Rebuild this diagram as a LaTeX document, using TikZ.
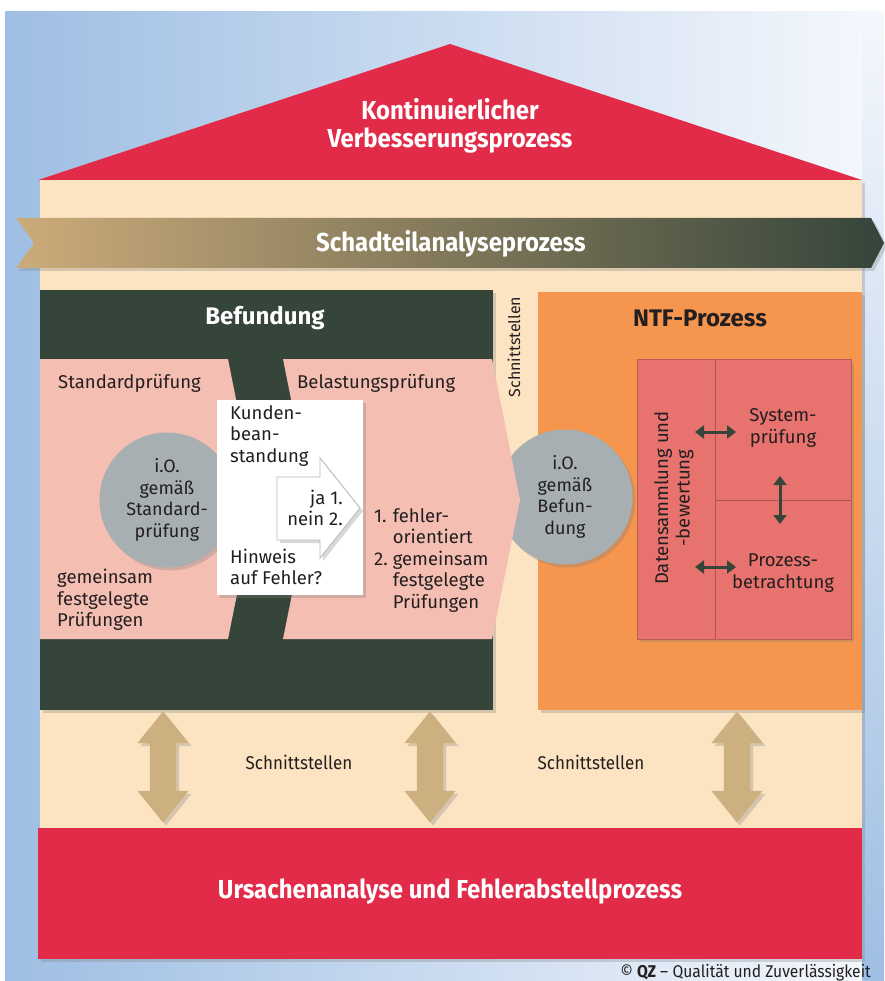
\documentclass[tikz,border=0pt]{standalone}
\usepackage{fontspec}
\setmainfont{Fira Sans}
\newfontfamily\condfont{Fira Sans}[FakeStretch=0.92]
\usetikzlibrary{arrows.meta,positioning,calc,shapes.arrows,shadows}
\definecolor{skyblue}{RGB}{158,190,227}
\definecolor{skypale}{RGB}{244,247,252}
\definecolor{roofred}{RGB}{226,43,72}
\definecolor{wallbeige}{RGB}{252,227,193}
\definecolor{befgreen}{RGB}{53,69,58}
\definecolor{ribtan}{RGB}{204,171,122}
\definecolor{chevpink}{RGB}{245,190,178}
\definecolor{ntforange}{RGB}{245,149,78}
\definecolor{ntfred}{RGB}{232,114,110}
\definecolor{iogray}{RGB}{167,175,178}
\definecolor{pillartan}{RGB}{205,176,128}
\definecolor{txtdark}{RGB}{35,31,32}
\tikzset{
  softshadow/.style={drop shadow={opacity=0.3, shadow xshift=3pt, shadow yshift=-3pt}},
  panel/.style={rectangle, inner sep=0pt, anchor=north west, softshadow},
  lbl/.style={font=\fontsize{18.5}{21.5}\selectfont, text=txtdark, align=left, inner sep=0pt},
  headlbl/.style={font=\bfseries\fontsize{24}{28}\selectfont, inner sep=0pt},
  bandlbl/.style={font=\condfont\bfseries\fontsize{26}{28}\selectfont, text=white, align=center, inner sep=0pt},
  iocircle/.style={circle, fill=iogray, minimum size=135pt, inner sep=0pt, align=center,
    font=\fontsize{18}{21.5}\selectfont, text=txtdark, softshadow},
  pillar/.style={double arrow, fill=pillartan, rotate=90, minimum height=111pt, inner xsep=0pt, inner ysep=13pt,
    double arrow head extend=12.5pt, double arrow tip angle=78, softshadow},
  ntfarr/.style={{Triangle[length=9pt,width=13pt]}-{Triangle[length=9pt,width=13pt]}, line width=3pt, draw=befgreen},
}

\begin{document}
\begin{tikzpicture}[x=1pt,y=-1pt]
  \useasboundingbox (0,0) rectangle (884,981);
  % backdrop
  \shade[left color=skyblue, right color=skypale] (5,12) rectangle (862,981);
  \shade[top color=skypale, bottom color=skyblue] (862,12) rectangle (884,981);
  % house
  \fill[wallbeige, softshadow] (40,180) rectangle (862,828);
  \fill[roofred] (38,180) -- (450,44) -- (862,180) -- cycle;
  \node[bandlbl] (kvp) at (450,126) {Kontinuierlicher\\Verbesserungsprozess};
  \shade[left color=ribtan, middle color=ribtan!45!befgreen, right color=befgreen, softshadow]
    (16,218) -- (871,218) -- (884,243) -- (871,268) -- (16,268) -- (34,243) -- cycle;
  \node[bandlbl] (sap) at (451,244) {Schadteilanalyseprozess};

  % Befundung
  \node[panel, fill=befgreen, minimum width=453, minimum height=420] (befbox) at (40,290) {};
  \node[headlbl, text=white] (beftitle) at (265,318) {Befundung};
  \node[font=\fontsize{16}{18}\selectfont, text=txtdark, rotate=90, inner sep=0pt] (sstop) at (514,347) {Schnittstellen};

  % NTF
  \node[panel, fill=ntforange, minimum width=324, minimum height=418] (ntfbox) at (538,292) {};
  \node[headlbl, text=txtdark] (ntftitle) at (700,318) {NTF-Prozess};
  \node[iocircle] (iobef) at (565,497) {i.O.\\gemäß\\Befun-\\dung};

  \fill[chevpink] (40,359) -- (228,359) -- (256,500) -- (228,639) -- (40,639) -- cycle;
  \fill[chevpink] (283,359) -- (492,359) -- (520,500) -- (492,639) -- (283,639) -- (311,500) -- cycle;
  \node[iocircle] (iostd) at (167,500) {i.O.\\gemäß\\Standard-\\prüfung};
  \node[lbl, anchor=west] (stdpr) at (58,383) {Standardprüfung};
  \node[lbl, anchor=west] (gemfest) at (57,600) {gemeinsam\\festgelegte\\Prüfungen};
  \node[lbl, anchor=west] (belpr) at (297,383) {Belastungsprüfung};
  \node[lbl, anchor=west] (bellist) at (374,561)
    {\begin{tabular}{@{}l@{\hspace{5pt}}l@{}}1. & fehler-\\ & orientiert\\ 2. & gemeinsam\\ & festgelegte\\ & Prüfungen\end{tabular}};

  % Kundenbeanstandung
  \node[panel, fill=white, minimum width=146, minimum height=195] (kundenbox) at (217,400) {};
  \filldraw[fill=white, draw=gray!55, line width=0.8pt, softshadow]
    (277,477) -- (320,477) -- (320,458) -- (360,508) -- (320,558) -- (320,540) -- (277,540) -- cycle;
  \node[lbl, anchor=west] (kunden) at (230,436) {Kunden-\\bean-\\standung};
  \node[lbl, anchor=west] (hinweis) at (230,567) {Hinweis\\auf Fehler?};
  \node[lbl, align=right, anchor=east] (janein) at (343,508) {ja 1.\\nein 2.};

  % NTF block
  \node[panel, fill=ntfred, draw=ntfred!80!black, minimum width=214, minimum height=280] (ntfblock) at (637,359) {};
  \draw[ntfred!75!black, line width=0.7pt] (715,359) -- (715,639);
  \draw[ntfred!75!black, line width=0.7pt] (715,500) -- (851,500);
  \node[lbl, align=center, rotate=90] (daten) at (674,498) {Datensammlung und\\-bewertung};
  \node[lbl, align=center] (system) at (783,428) {System-\\prüfung};
  \node[lbl, align=center] (prozess) at (783,573) {Prozess-\\betrachtung};
  \coordinate (a1) at (695,432); \coordinate (a2) at (736,432);
  \coordinate (b1) at (695,567); \coordinate (b2) at (736,567);
  \coordinate (c1) at (780,476); \coordinate (c2) at (780,524);
  \draw[ntfarr] (a1) -- (a2);
  \draw[ntfarr] (b1) -- (b2);
  \draw[ntfarr] (c1) -- (c2);

  % foundation
  \node[panel, fill=roofred, minimum width=824, minimum height=131] (ursache) at (38,828) {};
  \node[bandlbl] (ursl) at (450,892) {Ursachenanalyse und Fehlerabstellprozess};
  \foreach \x/\nm in {163/pilA, 430/pilB, 737/pilC}
    \node[pillar] (\nm) at (\x,767) {};
  \foreach \x/\nm in {299/ssA, 591/ssB}
    \node[font=\condfont\fontsize{18.5}{21}\selectfont, text=txtdark, inner sep=0pt] (\nm) at (\x,762) {Schnittstellen};
  \node[font=\condfont\fontsize{17}{19}\selectfont, text=txtdark, anchor=east, inner sep=0pt] (copy) at (871,973)
    {© \textbf{QZ} – Qualität und Zuverlässigkeit};
\end{tikzpicture}
\end{document}
